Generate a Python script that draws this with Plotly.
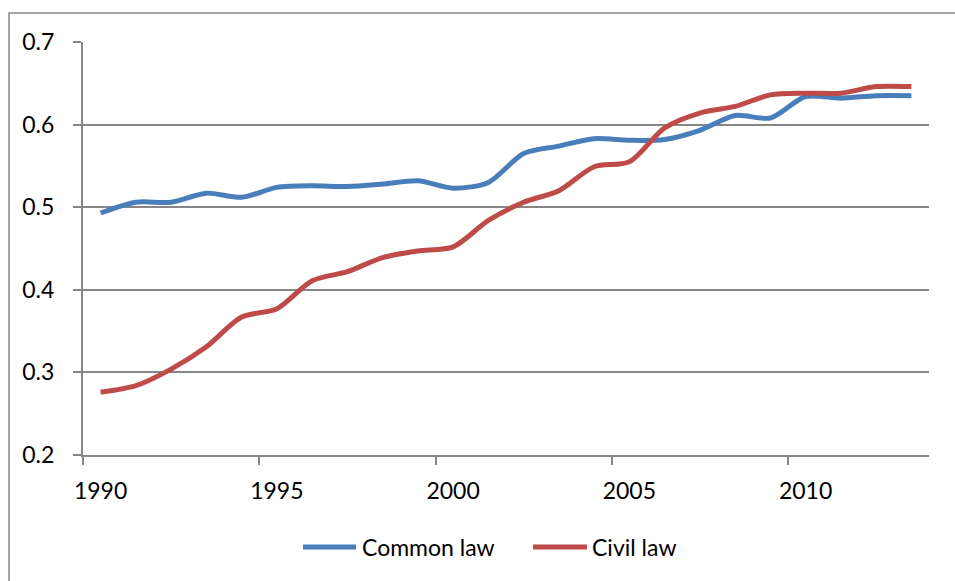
import plotly.graph_objects as go

years = list(range(1990, 2014))
common_law = [0.493, 0.506, 0.506, 0.517, 0.512, 0.524, 0.526, 0.525, 0.528, 0.532,
              0.523, 0.530, 0.565, 0.574, 0.583, 0.581, 0.582, 0.593, 0.611, 0.608,
              0.634, 0.632, 0.635, 0.635]
civil_law = [0.276, 0.284, 0.304, 0.331, 0.367, 0.377, 0.411, 0.422, 0.439, 0.447,
             0.452, 0.484, 0.506, 0.520, 0.549, 0.555, 0.596, 0.614, 0.622, 0.636,
             0.638, 0.638, 0.646, 0.646]
series_names = ["Common law", "Civil law"]
series_colors = ["#4A7EBB", "#BE4B48"]
x_labels = ["1990", "1995", "2000", "2005", "2010"]
y_ticks = [0.2, 0.3, 0.4, 0.5, 0.6, 0.7]

idx = list(range(len(years)))
FONT = "Lato, Open Sans, sans-serif"

fig = go.Figure()
for name, vals, col in zip(series_names, [common_law, civil_law], series_colors):
    fig.add_trace(go.Scatter(x=idx, y=vals, name=name, mode="lines", showlegend=False,
                             line=dict(color=col, width=5, shape="spline", smoothing=0.8)))

W, H = 955, 581
L, R, T, B = 83, 26, 42, 126
pw, ph = W - L - R, H - T - B


def px_x(p):
    return (p - L) / pw


def px_y(p):
    return (H - B - p) / ph


fig.update_layout(
    width=W, height=H,
    margin=dict(l=L, r=R, t=T, b=B),
    paper_bgcolor="white", plot_bgcolor="white",
    font=dict(family=FONT, size=23, color="#000000"),
    showlegend=False,
    xaxis=dict(range=[-0.5, len(years) - 0.5],
               tickmode="array",
               tickvals=[years.index(int(s)) for s in x_labels],
               ticktext=x_labels, ticks="", showgrid=False,
               showline=True, linecolor="#868686", linewidth=2,
               zeroline=False, ticklabelstandoff=14,
               minor=dict(ticks="outside", tick0=-0.5, dtick=5, ticklen=8,
                          tickcolor="#868686", tickwidth=2, showgrid=False),
               fixedrange=True),
    yaxis=dict(range=[0.2, 0.7], tickvals=y_ticks,
               ticktext=[f"{v:.1f}" for v in y_ticks],
               ticks="outside", ticklen=8, tickcolor="#868686", tickwidth=2,
               showgrid=True, gridcolor="#868686", gridwidth=2,
               showline=True, linecolor="#868686", linewidth=2,
               zeroline=False, ticklabelstandoff=14, fixedrange=True),
)

# legend drawn below the chart (sample line + label)
legend_y = 547
for name, col, (x0, x1, tx) in zip(series_names, series_colors,
                                   [(303, 356, 360), (533, 587, 590)]):
    fig.add_shape(type="line", xref="paper", yref="paper",
                  x0=px_x(x0), x1=px_x(x1), y0=px_y(legend_y), y1=px_y(legend_y),
                  line=dict(color=col, width=5))
    fig.add_annotation(xref="paper", yref="paper", x=px_x(tx), y=px_y(legend_y),
                       text=name, showarrow=False, xanchor="left", yanchor="middle",
                       font=dict(family=FONT, size=23, color="#000000"))

# chart-area border
fig.add_shape(type="rect", xref="paper", yref="paper",
              x0=px_x(9), x1=px_x(W + 5), y0=px_y(H + 5), y1=px_y(13),
              line=dict(color="#868686", width=1.5), fillcolor="rgba(0,0,0,0)",
              layer="below")

fig.write_html("out.html", config={"displayModeBar": False},
               post_script="document.body.style.margin='0';")
